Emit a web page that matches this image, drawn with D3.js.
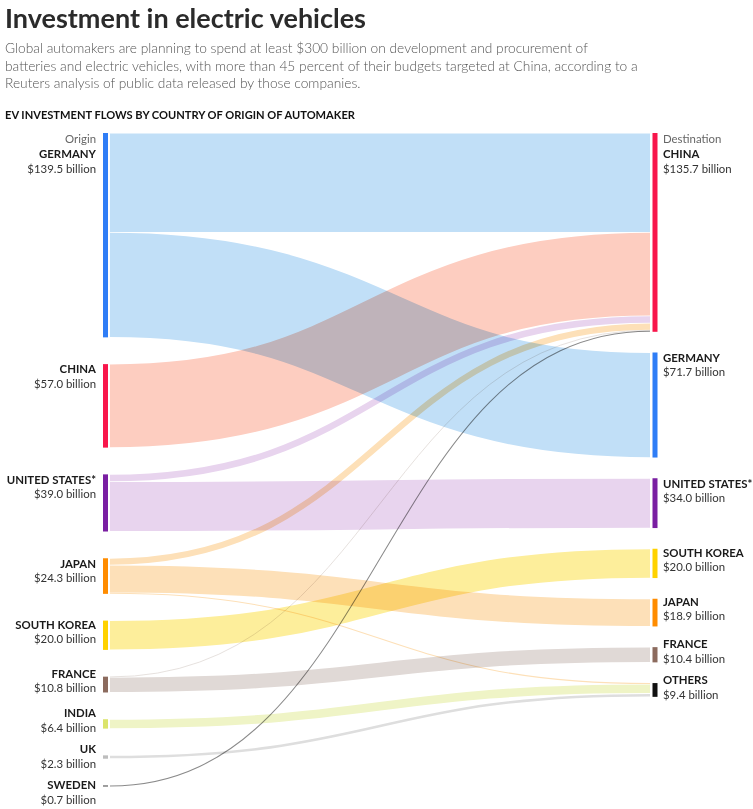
<!DOCTYPE html>
<html><head><meta charset="utf-8">
<script src="https://cdn.jsdelivr.net/npm/d3@7"></script>
<style>
body{margin:0;background:#fff;}
svg{display:block;font-family:Lato, "Open Sans", sans-serif;}
</style></head><body>
<svg id="c" width="753" height="809"></svg>
<script>
// ---- data ----
const origins = ["GERMANY","CHINA","UNITED STATES*","JAPAN","SOUTH KOREA","FRANCE","INDIA","UK","SWEDEN"];
const originTotals = [139.5,57.0,39.0,24.3,20.0,10.8,6.4,2.3,0.7];
const destinations = ["CHINA","GERMANY","UNITED STATES*","SOUTH KOREA","JAPAN","FRANCE","OTHERS"];
const destinationTotals = [135.7,71.7,34.0,20.0,18.9,10.4,9.4];
const flowSource = ["GERMANY","GERMANY","CHINA","UNITED STATES*","UNITED STATES*","JAPAN","JAPAN","JAPAN","SOUTH KOREA","FRANCE","FRANCE","INDIA","UK","SWEDEN"];
const flowTarget = ["CHINA","GERMANY","CHINA","CHINA","UNITED STATES*","CHINA","JAPAN","OTHERS","SOUTH KOREA","CHINA","FRANCE","OTHERS","OTHERS","CHINA"];
const flowValue = [67.8,71.7,57.0,5.0,34.0,4.7,18.9,0.7,20.0,0.4,10.4,6.4,2.3,0.7];

const titleText = "Investment in electric vehicles";
const subtitleLines = [
  "Global automakers are planning to spend at least $300 billion on development and procurement of",
  "batteries and electric vehicles, with more than 45 percent of their budgets targeted at China, according to a",
  "Reuters analysis of public data released by those companies."
];
const headerText = "EV INVESTMENT FLOWS BY COUNTRY OF ORIGIN OF AUTOMAKER";

// ---- styles ----
const nodeColor = {"GERMANY":"#2f7df6","CHINA":"#f8164b","UNITED STATES*":"#7a1fa2","JAPAN":"#ff8c00","SOUTH KOREA":"#ffd200",
  "FRANCE":"#8c6b5e","INDIA":"#dbe46c","UK":"#bdbdbd","SWEDEN":"#444","OTHERS":"#111"};
const linkColor = {"GERMANY":"#c1dff7","CHINA":"#fdcdc0","UNITED STATES*":"#e8d4ee","JAPAN":"#fde0b8","SOUTH KOREA":"#fdee9b",
  "FRANCE":"#e0d9d6","INDIA":"#eff4c6","UK":"#dedede","SWEDEN":"#8a8a8a"};

const svg = d3.select("#c");

svg.append("text").attr("x",5).attr("y",28).attr("font-size",27).attr("font-weight",700).attr("fill","#2b2b2b").text(titleText);
subtitleLines.forEach((l,i)=>{
  svg.append("text").attr("x",5).attr("y",53+i*17.6).attr("font-size",13.75).attr("font-weight",300).attr("fill","#555").text(l);
});
svg.append("text").attr("x",5).attr("y",119).attr("font-size",11.1).attr("font-weight",700).attr("fill","#111").text(headerText);

// ---- layout ----
const topY = 133;
const total = d3.sum(originTotals);
const y = d3.scaleLinear().domain([0,total]).range([0,439.5]);
const leftPad = 26.75, rightPad = 20.7;
const xL0 = 103, xL1 = 108, xR0 = 652.5, xR1 = 657.5, linkX0 = 110, linkX1 = 650;

function column(names, totals, pad){
  let cur = topY;
  return names.map((n,i)=>{
    const h = y(totals[i]);
    const node = {name:n, value:totals[i], y0:cur, y1:cur+h, index:i};
    cur += h + pad;
    return node;
  });
}
const leftNodes = column(origins, originTotals, leftPad);
const rightNodes = column(destinations, destinationTotals, rightPad);
const lMap = new Map(leftNodes.map(d=>[d.name,d]));
const rMap = new Map(rightNodes.map(d=>[d.name,d]));

const links = flowValue.map((v,i)=>({source:lMap.get(flowSource[i]), target:rMap.get(flowTarget[i]), value:v, w:y(v)}));
leftNodes.forEach(n=>{
  let c = n.y0;
  links.filter(l=>l.source===n).sort((a,b)=>a.target.index-b.target.index).forEach(l=>{l.sy=c+l.w/2; c+=l.w;});
});
rightNodes.forEach(n=>{
  let c = n.y0;
  links.filter(l=>l.target===n).sort((a,b)=>a.source.index-b.source.index).forEach(l=>{l.ty=c+l.w/2; c+=l.w;});
});

const linkGen = d3.linkHorizontal().x(d=>d[0]).y(d=>d[1]);
svg.append("g").selectAll("path").data(links).join("path")
  .attr("d",d=>linkGen({source:[linkX0,d.sy],target:[linkX1,d.ty]}))
  .attr("fill","none")
  .attr("stroke",d=>linkColor[d.source.name])
  .attr("stroke-width",d=>d.w>3?d.w-0.8:Math.max(0.8,d.w))
  .style("mix-blend-mode","multiply");

svg.append("g").selectAll("rect").data(leftNodes).join("rect")
  .attr("x",xL0).attr("width",xL1-xL0).attr("y",d=>d.y0).attr("height",d=>Math.max(1,d.y1-d.y0))
  .attr("fill",d=>nodeColor[d.name]);
svg.append("g").selectAll("rect").data(rightNodes).join("rect")
  .attr("x",xR0).attr("width",xR1-xR0).attr("y",d=>d.y0).attr("height",d=>Math.max(1,d.y1-d.y0))
  .attr("fill",d=>nodeColor[d.name]);

// ---- labels ----
const fmt = v=>"$"+d3.format(".1f")(v)+" billion";
function labels(nodes, x, anchor, heading){
  const g = svg.append("g").attr("text-anchor",anchor).attr("font-size",11.4);
  let prev = -Infinity;
  nodes.forEach((n,i)=>{
    let nameBase;
    if(i===0){
      g.append("text").attr("x",x).attr("y",n.y0+10).attr("font-weight",400).attr("fill","#666").text(heading);
      nameBase = n.y0+25;
    } else {
      const c = (n.y0+n.y1)/2;
      let capTop = Math.min(n.y0+1, c-15);
      capTop = Math.max(capTop, prev+36);
      nameBase = capTop+8.3;
    }
    prev = nameBase-8.3;
    g.append("text").attr("x",x).attr("y",nameBase).attr("font-weight",700).attr("fill","#1a1a1a").text(n.name);
    g.append("text").attr("x",x).attr("y",nameBase+14.5).attr("fill","#333").text(fmt(n.value));
  });
}
labels(leftNodes, 96, "end", "Origin");
labels(rightNodes, 663, "start", "Destination");
</script>
</body></html>
